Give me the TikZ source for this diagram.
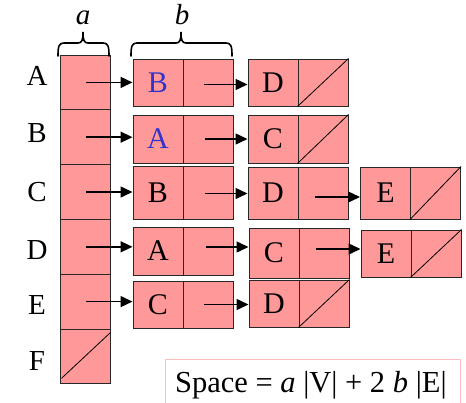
\documentclass[tikz,border=0pt]{standalone}
\usepackage{fontspec}
\setmainfont{Liberation Serif}
\usetikzlibrary{arrows.meta,calc}
\definecolor{cellfill}{RGB}{255,153,153}
\definecolor{celldraw}{RGB}{40,40,40}
\definecolor{vblue}{RGB}{51,51,204}
\definecolor{spaceborder}{RGB}{255,190,190}
\tikzset{
  cell/.style={draw=celldraw, fill=cellfill, line width=1pt, inner sep=0pt,
    minimum width=50pt, font=\fontsize{30}{32}\selectfont},
  arr/.style={line width=1.5pt, -{Triangle[length=12pt,width=11pt]}},
  nullslash/.style={line width=0.8pt},
  bracepath/.style={line width=1.6pt, line cap=round},
  lbl/.style={font=\fontsize{29}{31}\selectfont, inner sep=0pt},
}
\begin{document}
\begin{tikzpicture}[x=1pt,y=-1pt]
\useasboundingbox (0,0) rectangle (466,402);
% vertex array
\foreach \v/\i in {A/0,B/1,C/2,D/3,E/4,F/5}{
  \node[cell, minimum height=54.8pt] (V\v) at (85,{82.4+54.8*\i}) {};
}
\draw[nullslash] ($(VF.south west)+(2,-6)$) -- ($(VF.north east)+(0,4)$);
% row labels
\node[lbl] (LA) at (37,76) {A};
\node[lbl] (LB) at (37,133) {B};
\node[lbl] (LC) at (37,192) {C};
\node[lbl] (LD) at (37,250) {D};
\node[lbl] (LE) at (37,305) {E};
\node[lbl] (LF) at (37,361) {F};
% list nodes: row A
\node[cell, minimum height=47pt] (A1) at (158,82.5) {\color{vblue}B};
\node[cell, minimum height=47pt] (A1n) at (208,82.5) {};
\node[cell, minimum height=47pt] (A2) at (273,82.5) {D};
\node[cell, minimum height=47pt] (A2n) at (323,82.5) {};
\draw[nullslash] (A2n.south west) -- (A2n.north east);
% row B
\node[cell, minimum height=48pt] (B1) at (158,139) {\color{vblue}A};
\node[cell, minimum height=48pt] (B1n) at (208,139) {};
\node[cell, minimum height=48pt] (B2) at (273,139) {C};
\node[cell, minimum height=48pt] (B2n) at (323,139) {};
\draw[nullslash] (B2n.south west) -- (B2n.north east);
% row C
\node[cell, minimum height=53pt] (C1) at (158,192.5) {B};
\node[cell, minimum height=53pt] (C1n) at (208,192.5) {};
\node[cell, minimum height=52pt] (C2) at (273,193) {D};
\node[cell, minimum height=52pt] (C2n) at (323,193) {};
\node[cell, minimum height=52pt] (C3) at (385.5,193) {E};
\node[cell, minimum height=52pt] (C3n) at (435.5,193) {};
\draw[nullslash] (C3n.south west) -- (C3n.north east);
% row D
\node[cell, minimum height=48pt] (D1) at (158,251) {A};
\node[cell, minimum height=48pt] (D1n) at (208,251) {};
\node[cell, minimum height=50pt] (D2) at (274,253) {C};
\node[cell, minimum height=50pt] (D2n) at (324,253) {};
\node[cell, minimum height=47pt] (D3) at (386,253.5) {E};
\node[cell, minimum height=47pt] (D3n) at (436,253.5) {};
\draw[nullslash] (D3n.south west) -- (D3n.north east);
% row E
\node[cell, minimum height=47pt] (E1) at (158,304.5) {C};
\node[cell, minimum height=47pt] (E1n) at (208,304.5) {};
\node[cell, minimum height=47pt] (E2) at (274,303.5) {D};
\node[cell, minimum height=47pt] (E2n) at (324,303.5) {};
\draw[nullslash] (E2n.south west) -- (E2n.north east);
% arrows from vertex array
\foreach \r in {A,B,C,D,E}{
  \draw[arr] ($(V\r.center)+(1,0)$) -- (V\r.center -| \r1.west);
}
% arrows between list nodes
\coordinate (sA) at ($(A1n.center)+(-4,2)$);
\coordinate (sB) at ($(B1n.center)+(-3,0)$);
\coordinate (sC) at ($(C1n.center)+(-3,1)$);
\coordinate (sD) at ($(D1n.center)+(-2,-4)$);
\coordinate (sE) at ($(E1n.center)+(-4,0)$);
\coordinate (tC) at ($(C2n.center)+(-8,4)$);
\coordinate (tD) at ($(D2n.center)+(-8,-4)$);
\draw[arr] (sA) -- (sA -| A2.west);
\draw[arr] (sB) -- (sB -| B2.west);
\draw[arr] (sC) -- (sC -| C2.west);
\draw[arr] (sD) -- (sD -| D2.west);
\draw[arr] (sE) -- (sE -| E2.west);
\draw[arr] (tC) -- (tC -| C3.west);
\draw[arr] (tD) -- (tD -| D3.west);
% braces
\draw[bracepath] (58,56) .. controls (58,46) and (59,43) .. (64,43) -- (78,43)
  .. controls (82,43) and (83,40) .. (83,32) .. controls (83,40) and (84,43) .. (88,43)
  -- (103,43) .. controls (108,43) and (109,46) .. (109,56);
\draw[bracepath] (131,56) .. controls (131,46) and (132,43) .. (137,43) -- (176,43)
  .. controls (180,43) and (181,40) .. (181,32) .. controls (181,40) and (182,43) .. (186,43)
  -- (226,43) .. controls (231,43) and (232,46) .. (232,56);
\node[lbl] (la) at (83,18) {\textit{a}};
\node[lbl] (lb) at (182,15) {\textit{b}};
% space formula box
\draw[spaceborder, line width=1pt] (165,359.5) rectangle (460,420);
\node[lbl, anchor=base west, font=\fontsize{30.5}{32}\selectfont] (space) at (175,392) {Space = \textit{a} |V| + 2 \textit{b} |E|};
\end{tikzpicture}
\end{document}
